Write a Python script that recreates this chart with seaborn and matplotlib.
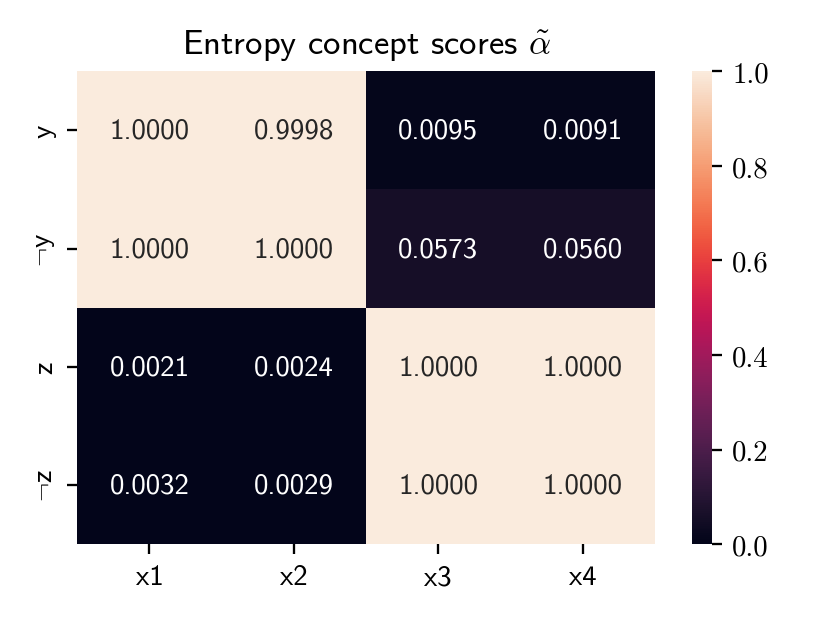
import numpy as np
import pandas as pd
import matplotlib
matplotlib.use("Agg")
import matplotlib.pyplot as plt
import seaborn as sns

concepts = ["y", "¬y", "z", "¬z"]
features = ["x1", "x2", "x3", "x4"]
scores = [
    [1.0000, 0.9998, 0.0095, 0.0091],
    [1.0000, 1.0000, 0.0573, 0.0560],
    [0.0021, 0.0024, 1.0000, 1.0000],
    [0.0032, 0.0029, 1.0000, 1.0000],
]

plt.rcParams['mathtext.fontset'] = 'cm'
sans = ['cmss10', 'DejaVu Sans']

def tex_neg(s):
    return s.replace("¬", r"$\neg$")

df = pd.DataFrame(scores, index=concepts, columns=features)

fig = plt.figure(figsize=(4, 3.0024), dpi=207.5)
ax = fig.add_axes([0.093, 0.125, 0.696, 0.759])
cax = fig.add_axes([0.834, 0.125, 0.024, 0.759])
sns.heatmap(df, annot=True, fmt=".4f", vmin=0, vmax=1, ax=ax, cbar_ax=cax,
            annot_kws={'family': sans})
ax.set_xticklabels(features, family=sans)
ax.set_yticklabels([tex_neg(c) for c in concepts], rotation=90, va="center", family=sans)
ax.set_title("Entropy concept scores " + r"$\tilde{\alpha}$", family=sans)
cax.set_yticks([0, 0.2, 0.4, 0.6, 0.8, 1.0])
cax.set_yticklabels(["%.1f" % t for t in [0, 0.2, 0.4, 0.6, 0.8, 1.0]], family='cmr10')
fig.savefig("out.png", dpi=207.5)
